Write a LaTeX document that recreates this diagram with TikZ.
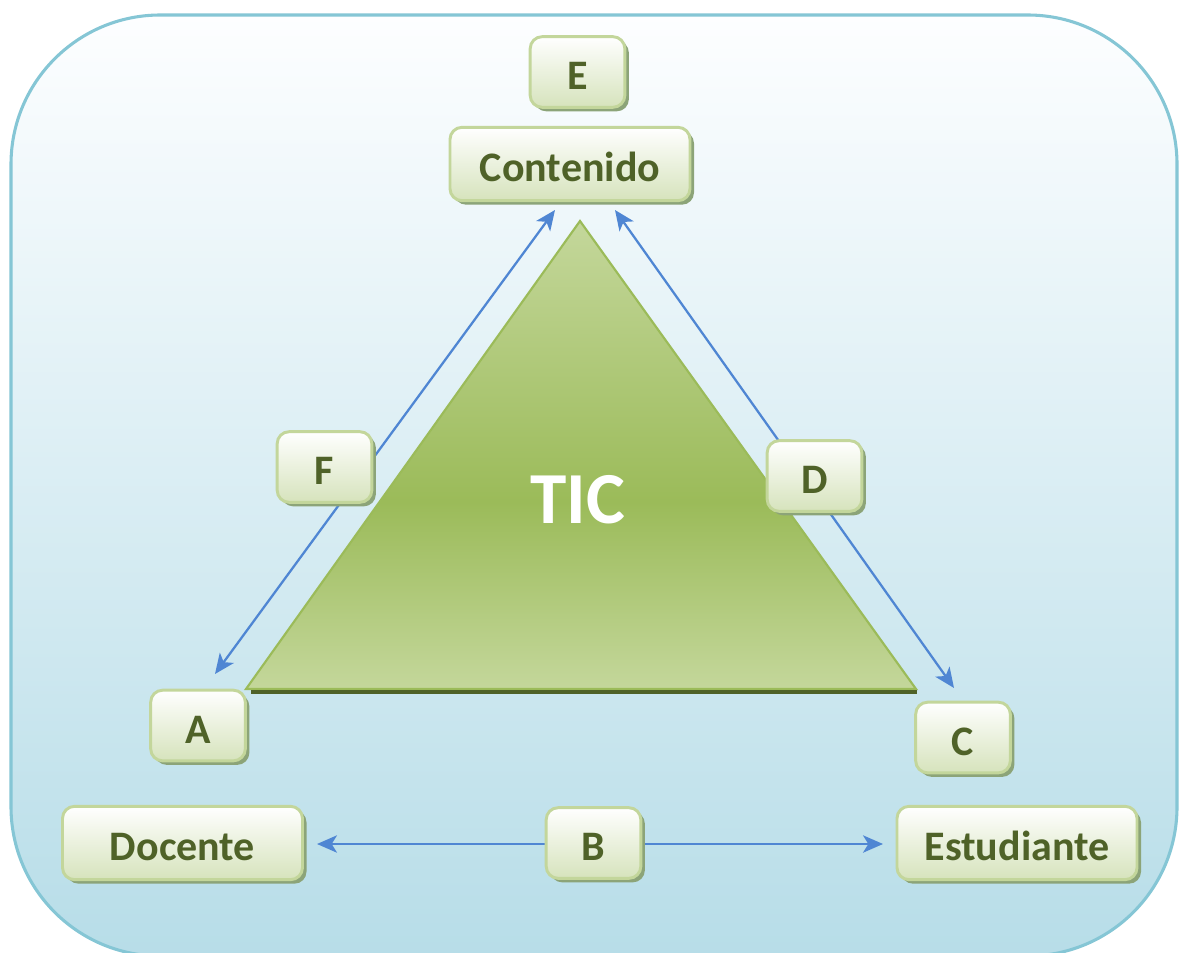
\documentclass[tikz,border=0pt]{standalone}
\usepackage{fontspec}
\setmainfont{Carlito}
\usetikzlibrary{arrows.meta,shadows}
\definecolor{txtgreen}{RGB}{79,98,40}
\definecolor{boxborder}{RGB}{195,214,155}
\definecolor{boxbottom}{RGB}{214,227,188}
\definecolor{shadowc}{RGB}{140,164,120}
\definecolor{arrowblue}{RGB}{79,134,211}
\definecolor{outerborder}{RGB}{133,198,213}
\definecolor{outertop}{RGB}{253,254,255}
\definecolor{outerbottom}{RGB}{183,221,232}
\definecolor{trilight}{RGB}{196,215,155}
\definecolor{trimid}{RGB}{155,187,89}
\definecolor{triborder}{RGB}{155,187,89}
\definecolor{tribase}{RGB}{79,98,40}
\pgfdeclareverticalshading{trishade}{100bp}{%
  color(0bp)=(trilight); color(25bp)=(trilight); color(45bp)=(trimid);
  color(75bp)=(trilight); color(100bp)=(trilight)}
\pgfdeclarelayer{bg}
\pgfdeclarelayer{links}
\pgfsetlayers{bg,links,main}
\tikzset{
  lbox/.style={draw=boxborder, line width=2.2pt, rounded corners=9pt,
    top color=white, bottom color=boxbottom,
    drop shadow={shadow xshift=3pt, shadow yshift=-3pt, fill=shadowc, opacity=1},
    text=txtgreen, font=\fontsize{31.5}{36}\selectfont\bfseries,
    inner sep=0pt, text height=26.5pt, text depth=0pt, align=center},
  smallbox/.style={lbox, minimum width=71pt, minimum height=53pt},
  bigbox/.style={lbox, minimum width=180pt, minimum height=55pt},
  tipstyle/.style={},
  link/.style={draw=arrowblue, line width=1.7pt,
    {Stealth[length=15pt,width=13pt,inset=4pt]}-{Stealth[length=15pt,width=13pt,inset=4pt]}}
}
\begin{document}
\begin{tikzpicture}[x=0.75pt,y=-0.75pt]
\useasboundingbox (0,0) rectangle (1187,952);
\begin{pgfonlayer}{bg}
  \path[fill=white] (0,0) rectangle (1187,952);
  \path[draw=outerborder, line width=2.3pt, rounded corners=112pt,
        top color=outertop, bottom color=outerbottom]
    (11,15) rectangle (1177,956);
  % triangle
  \path[shading=trishade, draw=triborder, line width=1.6pt, line join=miter]
    (580,221) -- (916,689) -- (246,689) -- cycle;
  \draw[tribase, line width=3.4pt] (251,692) -- (917,692);
  \node[text=white, font=\fontsize{55}{60}\selectfont\bfseries] (tic) at (578,500) {TIC};
\end{pgfonlayer}

% nodes
\node[smallbox] (E) at (577.5,72) {E};
\node[bigbox] (cont) at (570,164) {Contenido};
\node[smallbox] (F) at (324.5,467) {F};
\node[smallbox] (D) at (814.5,476) {D};
\node[smallbox] (A) at (198,725.5) {A};
\node[smallbox] (C) at (963,737.5) {C};
\node[bigbox] (doc) at (182.5,843) {Docente};
\node[smallbox] (B) at (593.5,843) {B};
\node[bigbox] (est) at (1017,843) {Estudiante};

% connector ends
\coordinate (l1) at (555,210);
\coordinate (l2) at (215,674);
\coordinate (r1) at (615,210);
\coordinate (r2) at (954,688);
\coordinate (b1) at (317,844);
\coordinate (b2) at (883,844);

\begin{pgfonlayer}{links}
  \draw[link] (l1) -- (l2);
  \draw[link] (r1) -- (r2);
  \draw[link] (b1) -- (b2);
\end{pgfonlayer}
\end{tikzpicture}
\end{document}
